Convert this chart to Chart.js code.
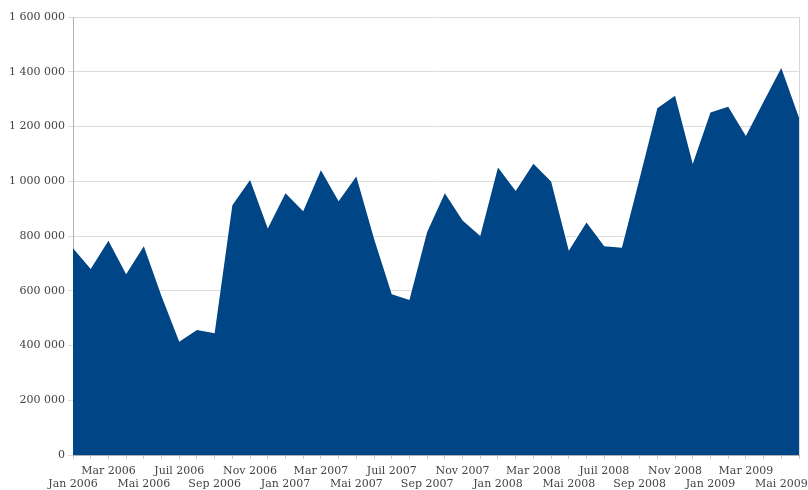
<!DOCTYPE html>
<html lang="fr">
<head>
  <meta charset="UTF-8" />
  <title>Area chart</title>
  <script src="https://cdn.jsdelivr.net/npm/chart.js"></script>
  <style>
    html, body { margin: 0; padding: 0; background: #fff; }
    .wrap { width: 808px; height: 490px; }
  </style>
</head>
<body>
  <div class="wrap"><canvas id="areaChart" width="808" height="490"></canvas></div>

  <script>
    // months Jan 2006 .. Jun 2009
    const monthNames = ['Jan', 'Fév', 'Mar', 'Avr', 'Mai', 'Juin', 'Juil', 'Aoû', 'Sep', 'Oct', 'Nov', 'Déc'];
    const years = [2006, 2007, 2008, 2009];
    const months = [];
    years.forEach(y => monthNames.forEach(m => months.push(m + ' ' + y)));
    const categories = months.slice(0, 42);

    const values = [
      755000, 679000, 783000, 660000, 763000, 580000, 414000, 457000, 445000, 912000,
      1005000, 827000, 956000, 890000, 1040000, 927000, 1017000, 790000, 587000, 566000,
      815000, 956000, 857000, 800000, 1050000, 964000, 1064000, 999000, 746000, 849000,
      763000, 757000, 1010000, 1267000, 1312000, 1063000, 1251000, 1272000, 1165000, 1290000,
      1414000, 1232000
    ];

    const yTicks = [0, 200000, 400000, 600000, 800000, 1000000, 1200000, 1400000, 1600000];

    const fmt = v => String(v).replace(/\B(?=(\d{3})+(?!\d))/g, ' ');
    const tickFont = { family: '"DejaVu Serif", "Liberation Serif", serif', size: 11, lineHeight: 1.25 };

    new Chart(document.getElementById('areaChart').getContext('2d'), {
      type: 'line',
      data: {
        labels: categories,
        datasets: [{
          data: values,
          fill: 'origin',
          backgroundColor: '#004586',
          borderColor: '#004586',
          borderWidth: 0,
          pointRadius: 0,
          tension: 0
        }]
      },
      options: {
        responsive: false,
        animation: false,
        layout: { padding: { top: 17, right: 9, left: 0, bottom: 0 } },
        plugins: { legend: { display: false }, tooltip: { enabled: false } },
        scales: {
          x: {
            offset: false,
            grid: {
              color: ctx => ctx.index === categories.length - 1 ? '#d8d8d8' : 'rgba(0,0,0,0)',
              tickColor: '#c8c8c8',
              tickLength: 4
            },
            border: { color: '#b0b0b0' },
            ticks: {
              autoSkip: false,
              maxRotation: 0,
              padding: 5,
              color: '#444',
              font: tickFont,
              callback: function (v, i) {
                if (i % 4 === 0) return ['', categories[i]];
                if (i % 4 === 2) return [categories[i], ''];
                return '';
              }
            },
            afterFit: s => { s.height = 35; }
          },
          y: {
            min: 0,
            max: 1600000,
            afterBuildTicks: s => { s.ticks = yTicks.map(v => ({ value: v })); },
            grid: { color: '#dcdcdc', tickLength: 5 },
            border: { color: '#b0b0b0' },
            ticks: {
              padding: 3,
              color: '#444',
              font: tickFont,
              callback: v => fmt(v)
            },
            afterFit: s => { s.width = 73; }
          }
        }
      }
    });
  </script>
</body>
</html>
